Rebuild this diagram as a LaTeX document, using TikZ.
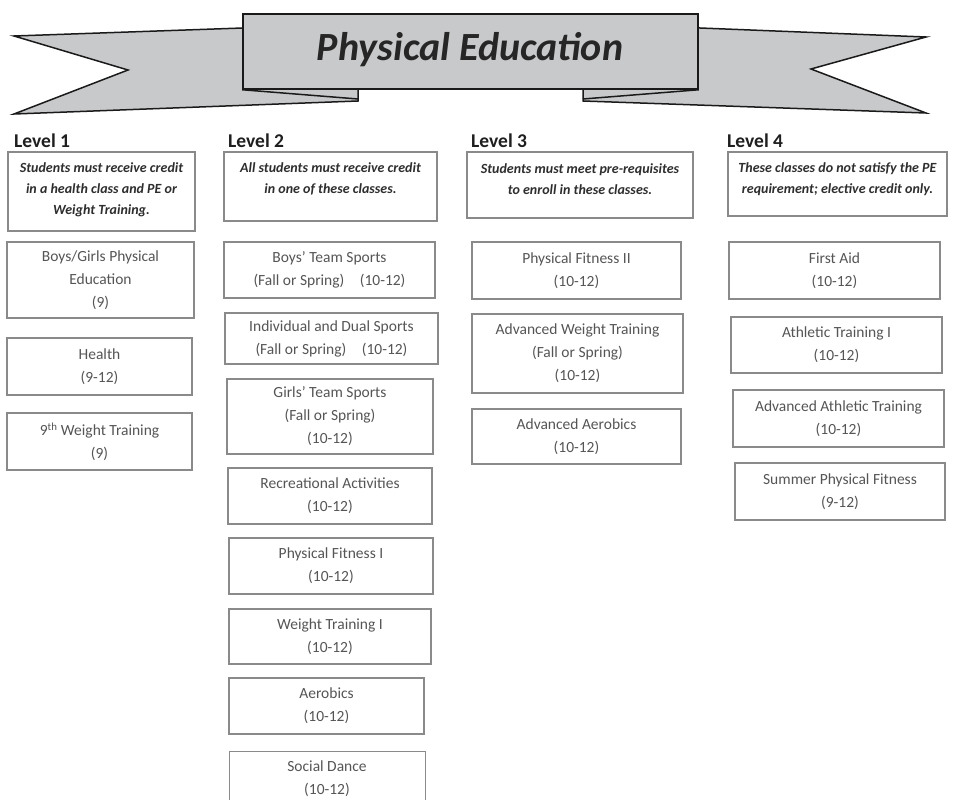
\documentclass[tikz,border=0pt]{standalone}
\usepackage{fontspec}
\setmainfont{Carlito}
\definecolor{ribbonfill}{HTML}{C8C9CB}
\definecolor{ribbonline}{HTML}{1A1A1A}
\definecolor{boxline}{HTML}{8A8A8A}
\definecolor{boxtext}{HTML}{555555}
\definecolor{hdrtext}{HTML}{2E2E2E}
\tikzset{
  ribbon/.style={fill=ribbonfill, draw=ribbonline, line width=1.5pt, line join=miter},
  crease/.style={draw=ribbonline, line width=1.5pt},
  pebox/.style={draw=boxline, line width=1.3pt, inner sep=0pt, align=center,
    text=boxtext, font=\fontsize{15.5}{23}\selectfont},
  hdrbox/.style={draw=boxline, line width=1.3pt, inner sep=0pt},
  hdrtxt/.style={inner sep=0pt, align=center, text=hdrtext,
    font=\fontsize{14}{21}\selectfont\bfseries\itshape},
  lvl/.style={anchor=west, inner sep=0pt, text=black!88, font=\fontsize{19.5}{21}\selectfont\bfseries},
  title/.style={inner sep=0pt, text=black!85, font=\fontsize{40}{42}\selectfont\bfseries\itshape}
}
\newcommand{\pebx}[6]{%
  \node[pebox, minimum width={(#4)-(#2)}, minimum height={(#5)-(#3)}]
    (#1) at ({((#2)+(#4))/2},{((#3)+(#5))/2}) {#6};}
\newcommand{\hdbx}[5]{%
  \node[hdrbox, minimum width={(#4)-(#2)}, minimum height={(#5)-(#3)}]
    (#1) at ({((#2)+(#4))/2},{((#3)+(#5))/2}) {};}
\begin{document}
\begin{tikzpicture}[x=1pt,y=-1pt]
\useasboundingbox (0,0) rectangle (956,800);
\fill[white] (0,0) rectangle (956,800);
% ribbon tails
\path[ribbon] (14,36) -- (300,26) -- (358,26) -- (358,101) -- (14,114) -- (128,70) -- cycle;
\path[ribbon] (926,37) -- (650,26) -- (583,26) -- (583,101) -- (926,113) -- (811,69) -- cycle;
% main band
\node[ribbon, minimum width=455pt, minimum height=75pt, inner sep=0pt] (band) at (470.5,51.5) {};
\coordinate (lfold) at (358,99);
\coordinate (rfold) at (583,99);
\draw[crease] (band.south west) -- (lfold);
\draw[crease] (band.south east) -- (rfold);
\node[title] (ttl) at (470,50) {Physical Education};
% level labels
\node[lvl] (lv1) at (14,141) {Level 1};
\node[lvl] (lv2) at (228,141) {Level 2};
\node[lvl] (lv3) at (471,141) {Level 3};
\node[lvl] (lv4) at (727,141) {Level 4};
% headers
\hdbx{h1}{8}{152}{195}{231}
\node[hdrtxt] (h1t) at (101.5,190) {Students must receive credit\\in a health class and PE or\\Weight Training.};
\hdbx{h2}{224}{152}{437}{221}
\node[hdrtxt] (h2t) at (330.5,179) {All students must receive credit\\in one of these classes.};
\hdbx{h3}{467}{152}{693}{218}
\node[hdrtxt] (h3t) at (580,179) {Students must meet pre-requisites\\to enroll in these classes.};
\hdbx{h4}{728}{152}{947}{216}
\node[hdrtxt] (h4t) at (837.5,179) {These classes do not satisfy the PE\\requirement; elective credit only.};
% level 1
\pebx{a1}{7}{242}{194}{318}{Boys/Girls Physical\\Education\\(9)}
\pebx{a2}{7}{338}{192}{395}{Health\\(9-12)}
\pebx{a3}{7}{413}{192}{470}{9\textsuperscript{th} Weight Training\\(9)}
% level 2
\pebx{b1}{224}{242}{435}{298}{Boys' Team Sports\\(Fall or Spring)\quad(10-12)}
\pebx{b2}{225}{313}{438}{364}{Individual and Dual Sports\\(Fall or Spring)\quad(10-12)}
\pebx{b3}{227}{379}{433}{454}{Girls' Team Sports\\(Fall or Spring)\\(10-12)}
\pebx{b4}{228}{468}{432}{524}{Recreational Activities\\(10-12)}
\pebx{b5}{229}{538}{433}{594}{Physical Fitness I\\(10-12)}
\pebx{b6}{229}{609}{431}{664}{Weight Training I\\(10-12)}
\pebx{b7}{229}{678}{424}{734}{Aerobics\\(10-12)}
\node[pebox, minimum width=196pt, minimum height=64pt, anchor=north west] (b8) at (229,751) {};
\node[inner sep=0pt, align=center, text=boxtext, font=\fontsize{15.5}{23}\selectfont] (b8t) at (327,778.5) {Social Dance\\(10-12)};
% level 3
\pebx{c1}{472}{242}{681}{299}{Physical Fitness II\\(10-12)}
\pebx{c2}{472}{314}{683}{393}{Advanced Weight Training\\(Fall or Spring)\\(10-12)}
\pebx{c3}{472}{409}{681}{464}{Advanced Aerobics\\(10-12)}
% level 4
\pebx{d1}{729}{242}{940}{299}{First Aid\\(10-12)}
\pebx{d2}{731}{317}{942}{373}{Athletic Training I\\(10-12)}
\pebx{d3}{733}{390}{944}{447}{Advanced Athletic Training\\(10-12)}
\pebx{d4}{735}{463}{945}{520}{Summer Physical Fitness\\(9-12)}
\end{tikzpicture}
\end{document}
